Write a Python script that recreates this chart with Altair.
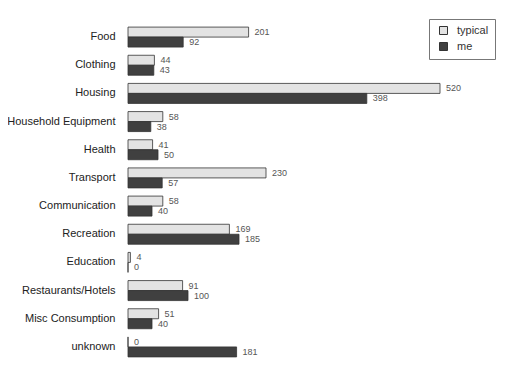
import altair as alt
import pandas as pd

categories = ["Food", "Clothing", "Housing", "Household Equipment", "Health",
              "Transport", "Communication", "Recreation", "Education",
              "Restaurants/Hotels", "Misc Consumption", "unknown"]
typical = [201, 44, 520, 58, 41, 230, 58, 169, 4, 91, 51, 0]
me = [92, 43, 398, 38, 50, 57, 40, 185, 0, 100, 40, 181]
series = ["typical", "me"]

rows = []
for c, t, m in zip(categories, typical, me):
    rows.append({"category": c, "series": "typical", "value": t})
    rows.append({"category": c, "series": "me", "value": m})
df = pd.DataFrame(rows)

y = alt.Y("category:N", sort=categories,
          scale=alt.Scale(paddingInner=0.29, paddingOuter=0.145),
          axis=alt.Axis(title=None, domain=False, ticks=False, labelPadding=13,
                        labelFontSize=11, labelColor="#222", labelFont="Liberation Sans"))
yoff = alt.YOffset("series:N", sort=series)
x = alt.X("value:Q", scale=alt.Scale(domain=[0, 520], nice=False, zero=True), axis=None)

bars = alt.Chart(df).mark_bar(stroke="#333", strokeWidth=0.8).encode(
    x=x, y=y, yOffset=yoff,
    color=alt.Color("series:N", sort=series,
                    scale=alt.Scale(domain=series, range=["#e3e3e3", "#404040"]),
                    legend=alt.Legend(title=None, orient="none", legendX=301, legendY=-4,
                                      strokeColor="#777", padding=6, symbolType="square",
                                      symbolSize=64, symbolStrokeColor="#333",
                                      symbolStrokeWidth=1, symbolOffset=3,
                                      labelFontSize=11, labelColor="#333",
                                      labelFont="Liberation Sans", labelOffset=8,
                                      rowPadding=3)),
)

labels = alt.Chart(df).mark_text(align="left", baseline="middle", dx=6,
                                 fontSize=9, color="#555", font="Liberation Sans").encode(
    x=x, y=y, yOffset=yoff, text="value:Q"
)

chart = (bars + labels).properties(
    width=312, height=338,
    padding={"left": 120, "top": 15, "right": 62, "bottom": 10},
    autosize="none",
).configure_view(stroke=None)

chart.save("out.html", embed_options={"renderer": "svg", "actions": False})
